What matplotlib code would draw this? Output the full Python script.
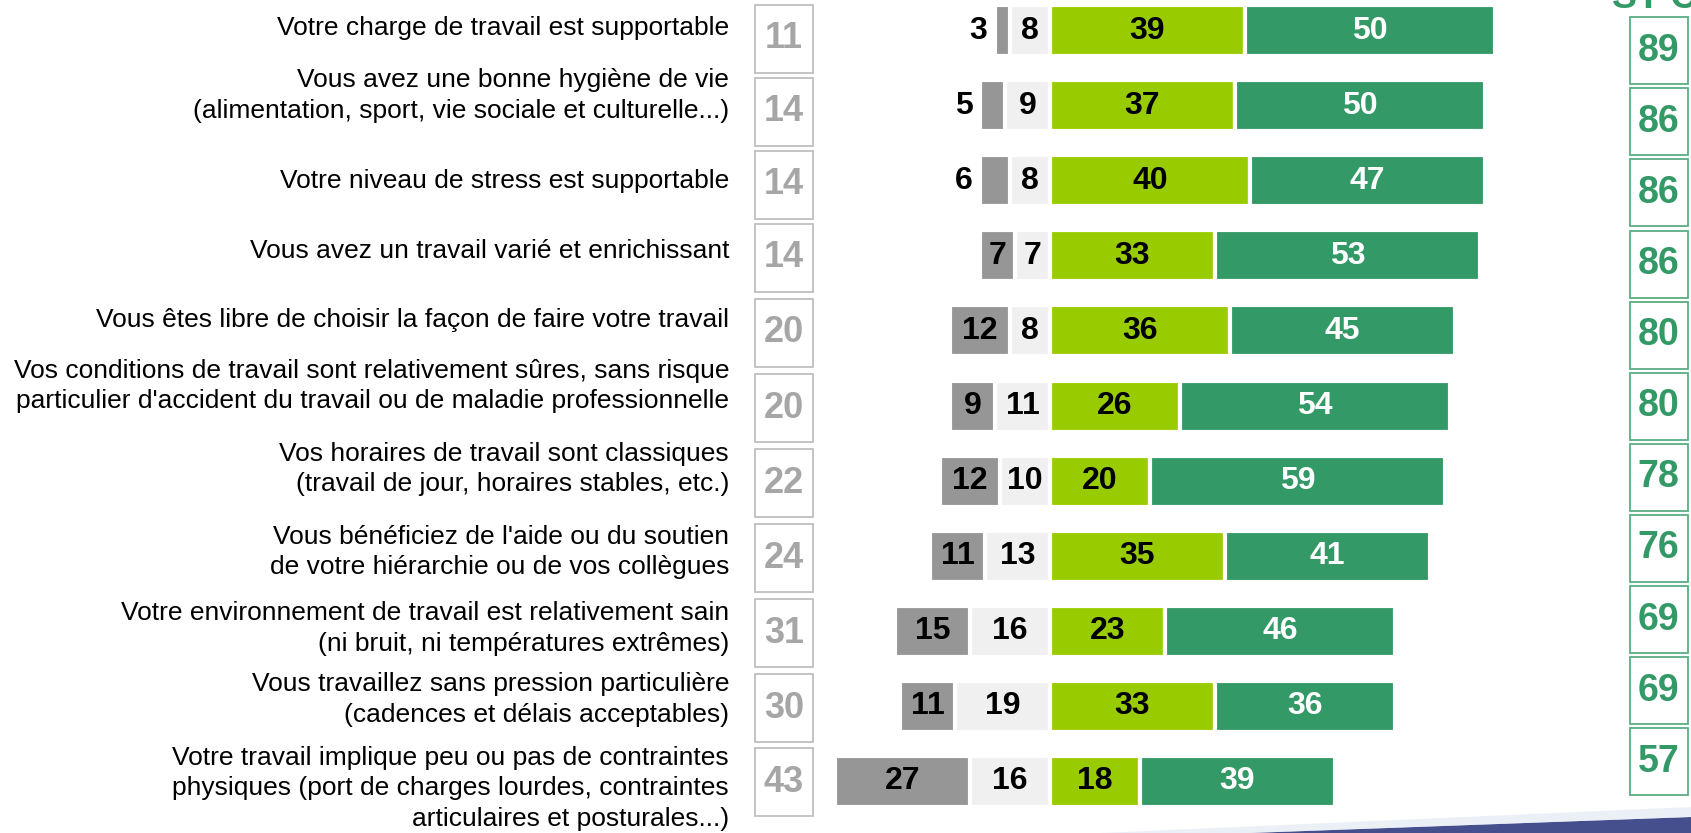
import matplotlib
matplotlib.use("Agg")
import matplotlib.pyplot as plt
from matplotlib.patches import Rectangle, Polygon

plt.rcParams['font.family'] = ['Liberation Sans', 'DejaVu Sans']

# ---------------- data ----------------
categories = [
    "Votre charge de travail est supportable",
    "Vous avez une bonne hygiène de vie\n(alimentation, sport, vie sociale et culturelle...)",
    "Votre niveau de stress est supportable",
    "Vous avez un travail varié et enrichissant",
    "Vous êtes libre de choisir la façon de faire votre travail",
    "Vos conditions de travail sont relativement sûres, sans risque\nparticulier d'accident du travail ou de maladie professionnelle",
    "Vos horaires de travail sont classiques\n(travail de jour, horaires stables, etc.)",
    "Vous bénéficiez de l'aide ou du soutien\nde votre hiérarchie ou de vos collègues",
    "Votre environnement de travail est relativement sain\n(ni bruit, ni températures extrêmes)",
    "Vous travaillez sans pression particulière\n(cadences et délais acceptables)",
    "Votre travail implique peu ou pas de contraintes\nphysiques (port de charges lourdes, contraintes\narticulaires et posturales...)",
]
tres_non = [3, 5, 6, 7, 12, 9, 12, 11, 15, 11, 27]
plutot_non = [8, 9, 8, 7, 8, 11, 10, 13, 16, 19, 16]
plutot_oui = [39, 37, 40, 33, 36, 26, 20, 35, 23, 33, 18]
tres_oui = [50, 50, 47, 53, 45, 54, 59, 41, 46, 36, 39]
total_non = [11, 14, 14, 14, 20, 20, 22, 24, 31, 30, 43]
total_oui = [89, 86, 86, 86, 80, 80, 78, 76, 69, 69, 57]

# ---------------- layout ----------------
W, H = 1691, 833
C_DGREY = "#969696"
C_LGREY = "#f0f0f0"
C_LIME = "#99cc00"
C_GREEN = "#339966"

center_px = 1050.0          # pixel x of the zero line
px_per_unit = 5.0           # pixels per percentage point
row0_px = 30.7              # pixel y (from top) of first bar centre
row_step_px = 75.06         # pixel distance between bars

label_dy_px = [-3, -10, 0, -5, -11, -20, -12, -4, -3, -7, 7]
lbox_dy_px = [8, 6, 4, 2, 2, 2, 2, 2, 2, 2, 1]

fig = plt.figure(figsize=(W / 100, H / 100), dpi=100)
ax = fig.add_axes([0, 0, 1, 1])
ax.set_xlim(-center_px / px_per_unit, (W - center_px) / px_per_unit)
ax.set_ylim((H - row0_px) / row_step_px, -row0_px / row_step_px)
ax.axis("off")

n = len(categories)
rows = list(range(n))
bar_h = 51 / row_step_px
lw = 3.0

neg_light_left = [-v for v in plutot_non]
neg_dark_left = [-(a + b) for a, b in zip(tres_non, plutot_non)]

ax.barh(rows, plutot_non, left=neg_light_left, height=bar_h, color=C_LGREY,
        edgecolor="white", linewidth=lw)
ax.barh(rows, tres_non, left=neg_dark_left, height=bar_h, color=C_DGREY,
        edgecolor="white", linewidth=lw)
ax.barh(rows, plutot_oui, left=0, height=bar_h, color=C_LIME,
        edgecolor="white", linewidth=lw)
ax.barh(rows, tres_oui, left=plutot_oui, height=bar_h, color=C_GREEN,
        edgecolor="white", linewidth=lw)

num_fs = 23
for i in rows:
    # light grey
    ax.text(-plutot_non[i] / 2, i, str(plutot_non[i]), ha="center", va="center",
            fontsize=num_fs, fontweight="bold", color="black")
    # dark grey
    if tres_non[i] < 7:
        ax.text(neg_dark_left[i] - 1.5, i, str(tres_non[i]), ha="right", va="center",
                fontsize=num_fs, fontweight="bold", color="black")
    else:
        ax.text(neg_dark_left[i] + tres_non[i] / 2, i, str(tres_non[i]), ha="center",
                va="center", fontsize=num_fs, fontweight="bold", color="black")
    # lime
    ax.text(plutot_oui[i] / 2, i, str(plutot_oui[i]), ha="center", va="center",
            fontsize=num_fs, fontweight="bold", color="black")
    # dark green
    ax.text(plutot_oui[i] + tres_oui[i] / 2, i, str(tres_oui[i]), ha="center",
            va="center", fontsize=num_fs, fontweight="bold", color="white")

# category labels
label_x = (729 - center_px) / px_per_unit
for i in rows:
    ax.text(label_x, i + label_dy_px[i] / row_step_px, categories[i], ha="right",
            va="center", ma="right", fontsize=19, color="black", linespacing=1.35)

# left boxes (total "non")
box_w = 58 / px_per_unit
box_h = 68 / row_step_px
lbox_cx = (784 - center_px) / px_per_unit
for i in rows:
    cy = i + lbox_dy_px[i] / row_step_px
    ax.add_patch(Rectangle((lbox_cx - box_w / 2, cy - box_h / 2), box_w, box_h,
                           facecolor="white", edgecolor="#bfbfbf", linewidth=1.3))
    ax.text(lbox_cx, cy, str(total_non[i]), ha="center", va="center",
            fontsize=26, fontweight="bold", color="#a6a6a6")

# right boxes (total "oui")
rbox_cx = (1658.5 - center_px) / px_per_unit
rbox_h = 67 / row_step_px
rbox0_px = 50.7
rbox_step_px = 71.1
for i in rows:
    cy = (rbox0_px + rbox_step_px * i - row0_px) / row_step_px
    ax.add_patch(Rectangle((rbox_cx - box_w / 2, cy - rbox_h / 2), box_w, rbox_h,
                           facecolor="white", edgecolor="#5aae84", linewidth=1.3))
    ax.text(rbox_cx, cy, str(total_oui[i]), ha="center", va="center",
            fontsize=27, fontweight="bold", color=C_GREEN)

# partially visible header (cut by slide top)
fig.text(1612 / W, 1 - 8 / H, "ST Co", ha="left", va="baseline", fontsize=27,
         fontweight="bold", color=C_GREEN)

# decorative bottom swoosh
fig.patches.append(Polygon([(1250 / W, 0), (1691 / W, 16 / H), (1691 / W, 0)],
                           closed=True, transform=fig.transFigure,
                           facecolor="#24307a", edgecolor="none", alpha=0.85))
fig.patches.append(Polygon([(1100 / W, 0), (1691 / W, 26 / H), (1691 / W, 16 / H), (1250 / W, 0)],
                           closed=True, transform=fig.transFigure,
                           facecolor="#dfe6f2", edgecolor="none", alpha=0.6))

fig.savefig("out.png", dpi=100, facecolor="white")
